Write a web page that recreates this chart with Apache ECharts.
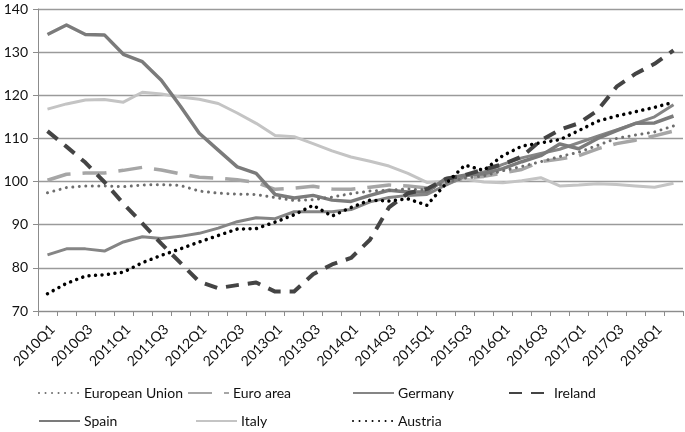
<!DOCTYPE html>
<html><head><meta charset="utf-8">
<script src="https://cdn.jsdelivr.net/npm/echarts@6/dist/echarts.min.js"></script>
<style>html,body{margin:0;padding:0;background:#fff}#c{width:685px;height:432px}</style>
</head><body><div id="c"></div>
<script>
const quarters = [];
for (let y = 2010; y <= 2018; y++) for (let q = 1; q <= 4; q++) quarters.push(y + 'Q' + q);
const categories = quarters.slice(0, 34);

const euValues = [97.4, 98.6, 99.0, 99.0, 98.8, 99.2, 99.3, 99.1, 97.8, 97.3, 97.1, 97.0, 96.3, 95.6, 95.8, 96.4, 97.2, 97.8, 98.0, 98.3, 98.0, 99.8, 100.8, 101.3, 102.5, 103.5, 104.6, 105.8, 106.8, 108.4, 110.0, 110.8, 111.5, 112.9];
const euroAreaValues = [100.3, 101.7, 102.0, 102.0, 102.6, 103.3, 102.7, 101.8, 101.0, 100.8, 100.4, 99.8, 98.2, 98.5, 98.9, 98.3, 98.2, 98.7, 99.2, 99.0, 98.5, 99.6, 100.8, 101.2, 102.0, 102.8, 104.6, 105.2, 106.0, 107.6, 108.8, 109.6, 110.6, 111.7];
const germanyValues = [83.0, 84.4, 84.4, 83.9, 86.0, 87.2, 86.8, 87.3, 88.0, 89.2, 90.7, 91.6, 91.4, 93.0, 93.0, 93.0, 93.5, 95.3, 96.3, 96.8, 97.0, 99.2, 101.2, 102.2, 104.0, 105.5, 106.5, 107.5, 109.0, 110.5, 112.0, 113.5, 115.0, 117.8];
const irelandValues = [111.7, 108.1, 104.4, 99.9, 94.9, 90.3, 85.6, 81.2, 76.8, 75.3, 76.0, 76.6, 74.5, 74.5, 78.5, 80.8, 82.3, 86.5, 94.0, 97.3, 98.3, 100.6, 101.5, 102.8, 104.0, 105.8, 109.5, 112.0, 113.5, 116.5, 122.0, 125.0, 127.3, 130.4];
const spainValues = [134.1, 136.3, 134.1, 134.0, 129.5, 127.8, 123.5, 117.5, 111.2, 107.3, 103.4, 101.9, 97.0, 96.2, 96.8, 95.7, 95.4, 96.8, 98.0, 97.6, 97.6, 100.7, 101.5, 101.8, 103.0, 104.6, 106.0, 108.7, 107.6, 110.0, 111.8, 113.5, 113.6, 115.2];
const italyValues = [116.8, 118.0, 118.9, 119.0, 118.4, 120.7, 120.3, 119.6, 119.1, 118.1, 115.9, 113.5, 110.7, 110.4, 108.8, 107.1, 105.7, 104.7, 103.6, 101.9, 99.8, 100.1, 100.6, 99.9, 99.7, 100.2, 100.9, 99.0, 99.2, 99.5, 99.3, 99.0, 98.7, 99.6];
const austriaValues = [74.0, 76.4, 78.1, 78.4, 79.0, 81.2, 82.9, 84.4, 86.0, 87.5, 89.0, 89.1, 90.6, 92.3, 94.5, 92.0, 94.0, 95.7, 95.5, 96.0, 94.5, 99.5, 103.8, 102.6, 106.0, 108.2, 109.0, 109.7, 111.8, 114.0, 115.2, 116.2, 117.2, 118.4];

const yTicks = [70, 80, 90, 100, 110, 120, 130, 140];

const FONT = 'Lato';
function mk(name, data, color, width, type, cap, z) {
  return { name, type: 'line', data, showSymbol: false, symbol: 'none', z: z || 2,
    lineStyle: { color, width, type, cap: cap || 'butt', join: 'round' },
    itemStyle: { color }, emphasis: { disabled: true }, animation: false };
}
function lg(name, left, top) {
  return { left, top, padding: 0, itemWidth: 41, itemHeight: 14, itemGap: 0,
    itemStyle: { opacity: 0 },
    textStyle: { fontFamily: FONT, fontSize: 14, color: '#111', padding: [0, 0, 0, -1] },
    data: [name] };
}

const chart = echarts.init(document.getElementById('c'), null, { renderer: 'canvas' });
chart.setOption({
  animation: false,
  backgroundColor: '#ffffff',
  grid: { left: 38, right: 2, top: 9, bottom: 121, containLabel: false },
  xAxis: {
    type: 'category', data: categories, boundaryGap: true,
    axisLine: { lineStyle: { color: '#8c8c8c', width: 1 } },
    axisTick: { show: true, interval: 0, length: 5, lineStyle: { color: '#8c8c8c' } },
    axisLabel: { interval: 1, rotate: 45, color: '#111', fontFamily: FONT, fontSize: 14, margin: 21, padding: [0, -7, 0, 0] },
    splitLine: { show: false }
  },
  yAxis: {
    type: 'value', min: yTicks[0], max: yTicks[yTicks.length - 1], interval: 10,
    axisLine: { show: true, lineStyle: { color: '#8c8c8c', width: 1 } },
    axisTick: { show: true, length: 5, inside: false, lineStyle: { color: '#8c8c8c' } },
    axisLabel: { color: '#111', fontFamily: FONT, fontSize: 14, margin: 10 },
    splitLine: { lineStyle: { color: '#9a9a9a', width: 1.3 } }
  },
  legend: [
    lg('European Union', 38, 386), lg('Euro area', 187, 386), lg('Germany', 352, 386), lg('Ireland', 508, 386),
    lg('Spain', 38, 414), lg('Italy', 195, 414), lg('Austria', 352, 414)
  ],
  series: [
    mk('European Union', euValues, '#6e6e6e', 3, [0.01, 6.5], 'round', 3),
    mk('Euro area', euroAreaValues, '#a6a6a6', 3.5, [24, 12], 'butt', 2),
    mk('Germany', germanyValues, '#858585', 3, 'solid', 'butt', 2),
    mk('Ireland', irelandValues, '#444444', 4, [13, 9], 'butt', 4),
    mk('Spain', spainValues, '#7b7b7b', 3.5, 'solid', 'butt', 2),
    mk('Italy', italyValues, '#c4c4c4', 3, 'solid', 'butt', 1),
    mk('Austria', austriaValues, '#000000', 3.5, [0.01, 6.5], 'round', 5)
  ]
});
</script></body></html>
